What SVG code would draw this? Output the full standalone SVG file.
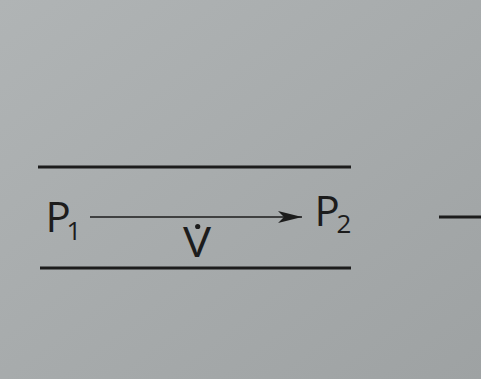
<svg xmlns="http://www.w3.org/2000/svg" width="481" height="379" viewBox="0 0 481 379">
  <defs>
    <linearGradient id="bg" x1="0" y1="0" x2="1" y2="1">
      <stop offset="0" stop-color="#b0b4b5"/>
      <stop offset="1" stop-color="#9ea2a3"/>
    </linearGradient>
    <marker id="arrow" viewBox="0 0 24 12" refX="24" refY="6" markerWidth="24" markerHeight="12" markerUnits="userSpaceOnUse" orient="auto">
      <path d="M0,0 L24,6 L0,12 L6,6 Z" fill="#1c1c1c"/>
    </marker>
  </defs>
  <style>
    .wall { stroke: #1c1c1c; stroke-width: 3; }
    .lbl { font-family: "Open Sans", "Noto Sans", "Liberation Sans", sans-serif; fill: #1c1c1c; }
    .big { font-size: 42px; }
    .sub { font-size: 26px; }
    .tight { letter-spacing: -6px; }
  </style>
  <rect width="481" height="379" fill="url(#bg)"/>
  <g id="walls">
    <line class="wall" x1="38" y1="167" x2="351" y2="167"/>
    <line class="wall" x1="40" y1="268" x2="351" y2="268"/>
    <line class="wall" x1="439" y1="217" x2="481" y2="217"/>
  </g>
  <g id="connectors">
    <line x1="90" y1="217" x2="302" y2="217" stroke="#1c1c1c" stroke-width="1.6" marker-end="url(#arrow)"/>
  </g>
  <g id="p1">
    <text class="lbl big tight" x="45.5" y="232">P</text>
    <text class="lbl sub" x="66.5" y="240">1</text>
  </g>
  <g id="p2">
    <text class="lbl big tight" x="314.5" y="226">P</text>
    <text class="lbl sub" x="336.5" y="233">2</text>
  </g>
  <g id="vdot">
    <text class="lbl big" x="0" y="257.5" transform="translate(183 0) scale(1.12 1)">V</text>
    <circle cx="197.7" cy="226.5" r="2.6" fill="#1c1c1c"/>
  </g>
</svg>
